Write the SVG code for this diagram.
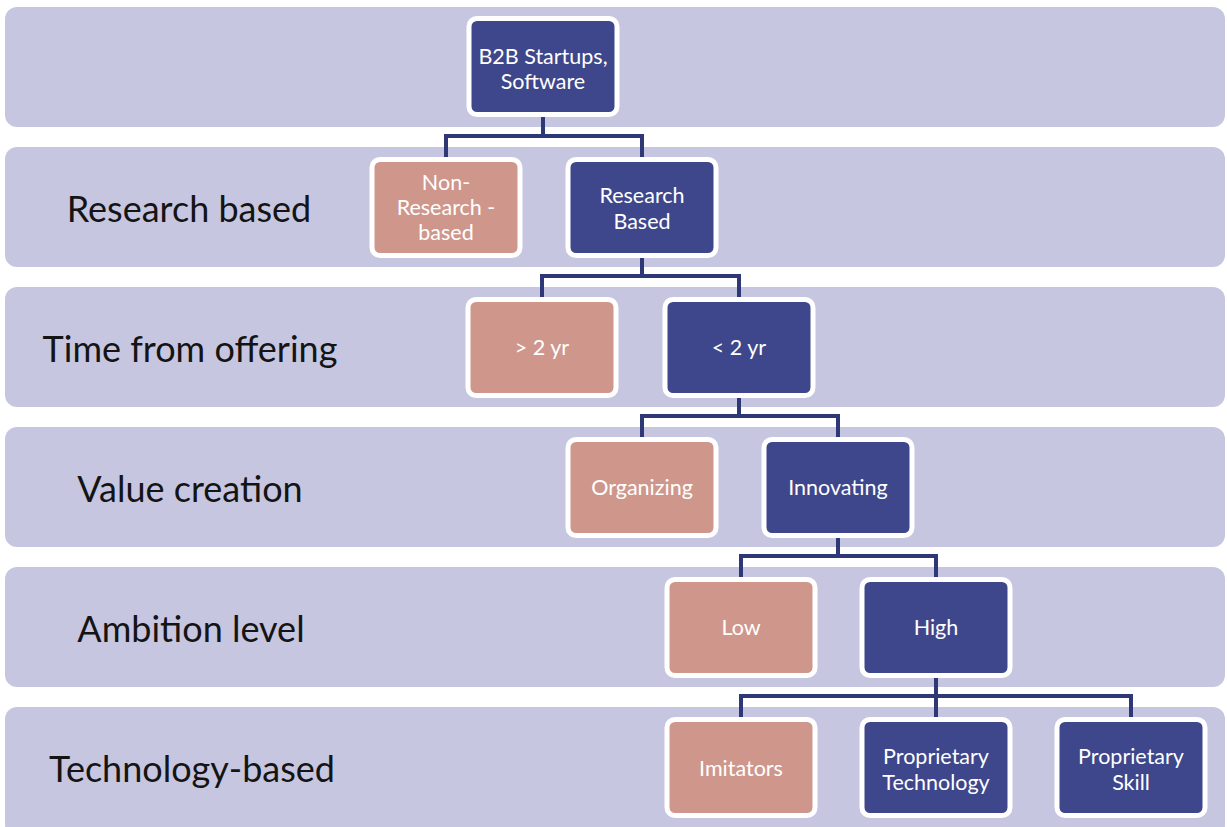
<svg xmlns="http://www.w3.org/2000/svg" width="1227" height="827" viewBox="0 0 1227 827">
<style>
.band{fill:#c7c6e1}
.lbl{font-family:Lato,"Liberation Sans",sans-serif;font-size:36px;fill:#141414;text-anchor:middle}
.blue{fill:#3e478b;stroke:#ffffff;stroke-width:5}
.pink{fill:#cf978b;stroke:#ffffff;stroke-width:5}
.nt{font-family:Lato,"Liberation Sans",sans-serif;font-size:21.5px;fill:#ffffff;text-anchor:middle}
.conn{fill:none;stroke:#2e3877;stroke-width:4}
</style>
<rect width="1227" height="827" fill="#ffffff"/>
<g id="bands">
<rect class="band" x="5" y="7" width="1220" height="120" rx="12"/>
<rect class="band" x="5" y="147" width="1220" height="120" rx="12"/>
<rect class="band" x="5" y="287" width="1220" height="120" rx="12"/>
<rect class="band" x="5" y="427" width="1220" height="120" rx="12"/>
<rect class="band" x="5" y="567" width="1220" height="120" rx="12"/>
<rect class="band" x="5" y="707" width="1220" height="130" rx="12"/>
</g>
<g id="row-labels">
<text class="lbl" x="189" y="222">Research based</text>
<text class="lbl" x="190" y="362">Time from offering</text>
<text class="lbl" x="190" y="502">Value creation</text>
<text class="lbl" x="191" y="642">Ambition level</text>
<text class="lbl" x="192" y="782">Technology-based</text>
</g>
<g id="connectors">
<path class="conn" d="M543 117 V136 M446 157 V136 H642 V157"/>
<path class="conn" d="M642 257 V276 M542 297 V276 H739 V297"/>
<path class="conn" d="M739 397 V416 M642 437 V416 H838 V437"/>
<path class="conn" d="M838 537 V556 M741 577 V556 H936 V577"/>
<path class="conn" d="M936 677 V696 M741 717 V696 H1131 V717 M936 696 V717"/>
</g>
<g id="n-root"><rect class="blue" x="469" y="18.5" width="148" height="96" rx="8"/><text class="nt" x="543" y="64">B2B Startups,</text><text class="nt" x="543" y="89">Software</text></g>
<g id="n-nonresearch"><rect class="pink" x="372" y="159.5" width="148" height="96" rx="8"/><text class="nt" x="446" y="190">Non-</text><text class="nt" x="446" y="215">Research -</text><text class="nt" x="446" y="240">based</text></g>
<g id="n-research"><rect class="blue" x="568" y="159.5" width="148" height="96" rx="8"/><text class="nt" x="642" y="203">Research</text><text class="nt" x="642" y="229">Based</text></g>
<g id="n-gt2"><rect class="pink" x="468" y="299.5" width="148" height="96" rx="8"/><text class="nt" x="542" y="355">&gt; 2 yr</text></g>
<g id="n-lt2"><rect class="blue" x="665" y="299.5" width="148" height="96" rx="8"/><text class="nt" x="739" y="355">&lt; 2 yr</text></g>
<g id="n-organizing"><rect class="pink" x="568" y="439.5" width="148" height="96" rx="8"/><text class="nt" x="642" y="495">Organizing</text></g>
<g id="n-innovating"><rect class="blue" x="764" y="439.5" width="148" height="96" rx="8"/><text class="nt" x="838" y="495">Innovating</text></g>
<g id="n-low"><rect class="pink" x="667" y="579.5" width="148" height="96" rx="8"/><text class="nt" x="741" y="635">Low</text></g>
<g id="n-high"><rect class="blue" x="862" y="579.5" width="148" height="96" rx="8"/><text class="nt" x="936" y="635">High</text></g>
<g id="n-imitators"><rect class="pink" x="667" y="719.5" width="148" height="96" rx="8"/><text class="nt" x="741" y="776">Imitators</text></g>
<g id="n-proptech"><rect class="blue" x="862" y="719.5" width="148" height="96" rx="8"/><text class="nt" x="936" y="764">Proprietary</text><text class="nt" x="936" y="790">Technology</text></g>
<g id="n-propskill"><rect class="blue" x="1057" y="719.5" width="148" height="96" rx="8"/><text class="nt" x="1131" y="764">Proprietary</text><text class="nt" x="1131" y="790">Skill</text></g>
</svg>
